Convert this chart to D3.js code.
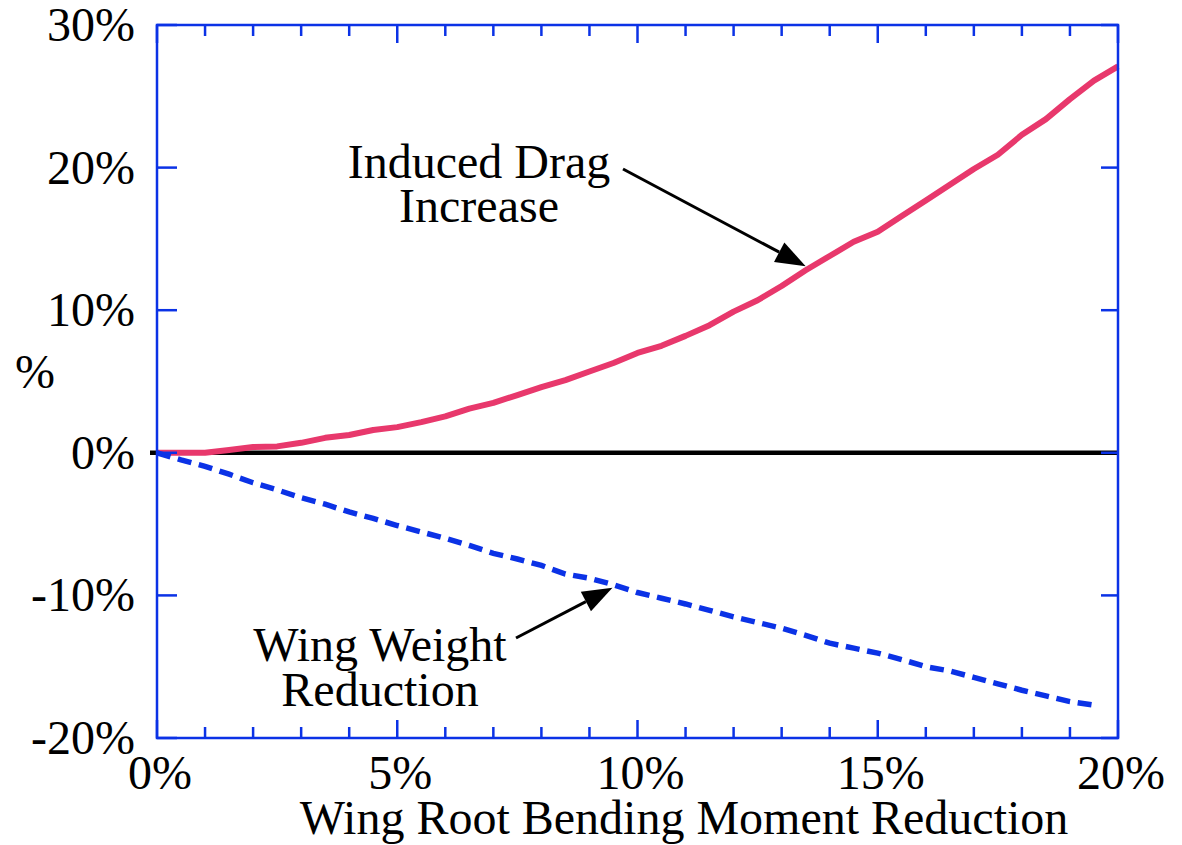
<!DOCTYPE html>
<html><head><meta charset="utf-8">
<script src="https://cdn.jsdelivr.net/npm/d3@7"></script>
<style>
body{margin:0;background:#fff;}
text{font-family:"Liberation Serif","Times New Roman",serif;fill:#000;}
</style></head>
<body>
<svg id="chart" width="1182" height="845"></svg>
<script>
const xTicks = [0, 5, 10, 15, 20];
const yTicks = [-20, -10, 0, 10, 20, 30];
const dragX = [0,0.5,1,1.5,2,2.5,3,3.5,4,4.5,5,5.5,6,6.5,7,7.5,8,8.5,9,9.5,10,10.5,11,11.5,12,12.5,13,13.5,14,14.5,15,15.5,16,16.5,17,17.5,18,18.5,19,19.5,20];
const dragY = [0,0,0,0.2,0.4,0.45,0.7,1.05,1.25,1.6,1.8,2.15,2.55,3.1,3.5,4.05,4.6,5.1,5.7,6.3,7.0,7.5,8.2,8.95,9.9,10.7,11.7,12.8,13.8,14.8,15.5,16.6,17.7,18.8,19.9,20.9,22.3,23.4,24.8,26.1,27.1];
const weightX = [0,0.5,1,1.5,2,2.5,3,3.5,4,4.5,5,5.5,6,6.5,7,7.5,8,8.5,9,9.5,10,10.5,11,11.5,12,12.5,13,13.5,14,14.5,15,15.5,16,16.5,17,17.5,18,18.5,19,19.6];
const weightY = [0,-0.5,-0.95,-1.5,-2.1,-2.6,-3.15,-3.6,-4.15,-4.6,-5.1,-5.55,-6.0,-6.5,-7.05,-7.45,-7.9,-8.5,-8.8,-9.25,-9.8,-10.2,-10.6,-11.05,-11.5,-11.9,-12.3,-12.8,-13.35,-13.7,-14.05,-14.5,-15.0,-15.3,-15.75,-16.2,-16.65,-17.05,-17.45,-17.75];
const xTitle = "Wing Root Bending Moment Reduction";
const yTitle = "%";
const dragLabel = ["Induced Drag", "Increase"];
const weightLabel = ["Wing Weight", "Reduction"];

const svg = d3.select("#chart");
const L = 157, R = 1118, T = 25, B = 738;
const x = d3.scaleLinear().domain([0, 20]).range([L, R]);
const y = d3.scaleLinear().domain([-20, 30]).range([B, T]);
const blue = "#0b32e6", pink = "#e8386c";

// zero line
svg.append("line").attr("x1", L - 7).attr("x2", R).attr("y1", y(0)).attr("y2", y(0))
  .attr("stroke", "#000").attr("stroke-width", 4.5);

// curves
const line = d3.line().x(d => x(d[0])).y(d => y(d[1]));
svg.append("path").datum(dragX.map((v, i) => [v, dragY[i]]))
  .attr("d", line).attr("fill", "none").attr("stroke", pink).attr("stroke-width", 6)
  .attr("stroke-linejoin", "round");
svg.append("path").datum(weightX.map((v, i) => [v, weightY[i]]))
  .attr("d", line).attr("fill", "none").attr("stroke", blue).attr("stroke-width", 5.5)
  .attr("stroke-dasharray", "14,7.7");

// frame
svg.append("rect").attr("x", L).attr("y", T).attr("width", R - L).attr("height", B - T)
  .attr("fill", "none").attr("stroke", blue).attr("stroke-width", 2.5);

// ticks
const minor = d3.range(0, 21, 1);
const gx = svg.append("g");
const drawXTicks = (ypos, dir) => {
  minor.forEach(v => {
    const len = (v % 5 === 0) ? 18 : 11;
    gx.append("line").attr("x1", x(v)).attr("x2", x(v)).attr("y1", ypos).attr("y2", ypos + dir * len)
      .attr("stroke", blue).attr("stroke-width", 2.5);
  });
};
drawXTicks(T, 1);
drawXTicks(B, -1);
yTicks.forEach(v => {
  gx.append("line").attr("x1", L).attr("x2", L + 20).attr("y1", y(v)).attr("y2", y(v))
    .attr("stroke", blue).attr("stroke-width", 2.5);
  gx.append("line").attr("x1", R).attr("x2", R - 17).attr("y1", y(v)).attr("y2", y(v))
    .attr("stroke", blue).attr("stroke-width", 2.5);
});

// tick labels
const fs = 48;
yTicks.forEach(v => {
  svg.append("text").attr("x", 135).attr("y", y(v) + 16).attr("text-anchor", "end")
    .attr("font-size", fs).text(v + "%");
});
xTicks.forEach(v => {
  svg.append("text").attr("x", x(v) + 3).attr("y", 789).attr("text-anchor", "middle")
    .attr("font-size", fs).text(v + "%");
});

// axis titles
svg.append("text").attr("x", 684).attr("y", 834).attr("text-anchor", "middle")
  .attr("font-size", fs).text(xTitle);
svg.append("text").attr("x", 35).attr("y", 388).attr("text-anchor", "middle")
  .attr("font-size", fs).text(yTitle);

// annotations
const ann = (lines, cx, by, gap) => {
  const t = svg.append("text").attr("x", cx).attr("y", by)
    .attr("text-anchor", "middle").attr("font-size", fs);
  lines.forEach((s, i) => t.append("tspan").attr("x", cx).attr("dy", i === 0 ? 0 : gap).text(s));
};
ann(dragLabel, 479, 178, 44);
ann(weightLabel, 380, 661, 45);

const arrow = (x1, y1, x2, y2) => {
  const a = Math.atan2(y2 - y1, x2 - x1), hl = 30, hw = 11;
  const bx = x2 - hl * Math.cos(a), by = y2 - hl * Math.sin(a);
  svg.append("line").attr("x1", x1).attr("y1", y1).attr("x2", bx).attr("y2", by)
    .attr("stroke", "#000").attr("stroke-width", 3);
  const px = -Math.sin(a) * hw, py = Math.cos(a) * hw;
  svg.append("path").attr("d", `M${x2},${y2}L${bx + px},${by + py}L${bx - px},${by - py}Z`).attr("fill", "#000");
};
arrow(623, 169, x(13.5), y(12.8) - 4);
arrow(516, 638, x(9.5) - 1, y(-9.25) + 3);
</script>
</body></html>
